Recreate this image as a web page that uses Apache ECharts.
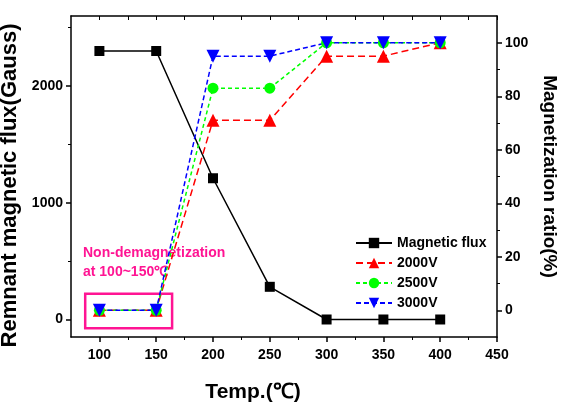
<!DOCTYPE html>
<html>
<head>
<meta charset="utf-8">
<script src="https://cdn.jsdelivr.net/npm/echarts@6/dist/echarts.min.js"></script>
<style>
  html, body { margin: 0; padding: 0; background: #fff; }
  #chart { width: 563px; height: 403px; }
</style>
</head>
<body>
<div id="chart"></div>
<script>
// values
const temps = [100, 150, 200, 250, 300, 350, 400];
const fluxGauss = [2300, 2300, 1210, 280, 0, 0, 0];
const ratio2000 = [0, 0, 71, 71, 95, 95, 100];
const ratio2500 = [0, 0, 83, 83, 100, 100, 100];
const ratio3000 = [0, 0, 95, 95, 100, 100, 100];

const xTicks = [100, 150, 200, 250, 300, 350, 400, 450];
const xMinor = [125, 175, 225, 275, 325, 375, 425];
const leftTicks = [0, 1000, 2000];
const leftMinor = [500, 1500, 2500];
const rightTicks = [0, 20, 40, 60, 80, 100];
const rightMinor = [10, 30, 50, 70, 90];

const FONT = 'Liberation Sans, Arial, sans-serif';
const PINK = '#FF1493';

const pair = (xs, ys) => xs.map((x, i) => [x, ys[i]]);
const plain = v => String(v);

const chart = echarts.init(document.getElementById('chart'));

const labelStyle = { fontFamily: FONT, fontWeight: 'bold', fontSize: 14, color: '#000' };
const nameStyle = { fontFamily: FONT, fontWeight: 'bold', fontSize: 18, color: '#000' };
const blackLine = { color: '#000', width: 1.5 };

const X_MIN = 75, X_MAX = 450;
const L_MIN = -150, L_MAX = 2600;
const R_MIN = -10, R_MAX = 110;

const option = {
  animation: false,
  grid: { left: 71, right: 66, top: 16, bottom: 66, outerBoundsMode: 'none' },
  legend: {
    left: 350, top: 231, orient: 'vertical',
    itemWidth: 36, itemHeight: 13, itemGap: 6,
    textStyle: labelStyle,
    data: ['Magnetic flux', '2000V', '2500V', '3000V']
  },
  xAxis: [
    {
      type: 'value', position: 'bottom', min: X_MIN, max: X_MAX,
      name: 'Temp.(℃)', nameLocation: 'middle', nameGap: 45,
      nameTextStyle: Object.assign({}, nameStyle, { fontSize: 21, padding: [0, 62, 0, 0] }),
      axisLine: { onZero: false, lineStyle: blackLine },
      axisTick: { customValues: xTicks, length: 5, lineStyle: blackLine },
      axisLabel: Object.assign({ customValues: xTicks, margin: 11, formatter: plain }, labelStyle),
      splitLine: { show: false }
    },
    {
      type: 'value', position: 'top', min: X_MIN, max: X_MAX,
      axisLine: { onZero: false, lineStyle: blackLine },
      axisTick: { customValues: xTicks.concat(xMinor), inside: true, length: 4, lineStyle: { color: '#000' } },
      axisLabel: { show: false },
      splitLine: { show: false }
    },
    {
      type: 'value', position: 'bottom', min: X_MIN, max: X_MAX,
      axisLine: { show: false, onZero: false },
      axisTick: { customValues: xMinor, length: 3, lineStyle: { color: '#000' } },
      axisLabel: { show: false },
      splitLine: { show: false }
    }
  ],
  yAxis: [
    {
      type: 'value', position: 'left', min: L_MIN, max: L_MAX,
      name: 'Remnant magnetic flux(Gauss)', nameLocation: 'middle', nameGap: 39,
      nameTextStyle: Object.assign({}, nameStyle, { fontSize: 22, padding: [0, 18, 0, 0] }),
      axisLine: { show: true, onZero: false, lineStyle: blackLine },
      axisTick: { show: true, customValues: leftTicks, length: 5, lineStyle: blackLine },
      axisLabel: Object.assign({ customValues: leftTicks, margin: 8, formatter: plain }, labelStyle),
      splitLine: { show: false }
    },
    {
      type: 'value', position: 'right', min: R_MIN, max: R_MAX,
      name: 'Magnetization ratio(%)', nameLocation: 'middle', nameGap: 42, nameRotate: -90,
      nameTextStyle: Object.assign({}, nameStyle, { fontSize: 19 }),
      axisLine: { show: true, onZero: false, lineStyle: blackLine },
      axisTick: { show: true, customValues: rightTicks, length: 5, lineStyle: blackLine },
      axisLabel: Object.assign({ customValues: rightTicks, margin: 8, formatter: plain }, labelStyle),
      splitLine: { show: false }
    },
    {
      type: 'value', position: 'left', min: L_MIN, max: L_MAX,
      axisLine: { show: false, onZero: false },
      axisTick: { show: true, customValues: leftMinor, length: 3, lineStyle: { color: '#000' } },
      axisLabel: { show: false },
      splitLine: { show: false }
    },
    {
      type: 'value', position: 'right', min: R_MIN, max: R_MAX,
      axisLine: { show: false, onZero: false },
      axisTick: { show: true, customValues: rightMinor, length: 3, lineStyle: { color: '#000' } },
      axisLabel: { show: false },
      splitLine: { show: false }
    }
  ],
  series: [
    {
      name: 'Magnetic flux', type: 'line', xAxisIndex: 0, yAxisIndex: 0,
      data: pair(temps, fluxGauss),
      symbol: 'rect', symbolSize: 10,
      itemStyle: { color: '#000' },
      lineStyle: { color: '#000', width: 1.5 },
      markArea: {
        silent: true,
        itemStyle: { color: 'rgba(0,0,0,0)', borderColor: PINK, borderWidth: 2.5 },
        data: [[{ coord: [87.5, 220] }, { coord: [164, -75] }]]
      }
    },
    {
      name: '2000V', type: 'line', xAxisIndex: 0, yAxisIndex: 1,
      data: pair(temps, ratio2000),
      symbol: 'triangle', symbolSize: 13,
      itemStyle: { color: '#FF0000' },
      lineStyle: { color: '#FF0000', width: 1.5, type: [7, 4] }
    },
    {
      name: '2500V', type: 'line', xAxisIndex: 0, yAxisIndex: 1,
      data: pair(temps, ratio2500),
      symbol: 'circle', symbolSize: 11,
      itemStyle: { color: '#00FF00' },
      lineStyle: { color: '#00FF00', width: 1.5, type: [4, 3] }
    },
    {
      name: '3000V', type: 'line', xAxisIndex: 0, yAxisIndex: 1,
      data: pair(temps, ratio3000),
      symbol: 'triangle', symbolRotate: 180, symbolSize: 13,
      itemStyle: { color: '#0000FF' },
      lineStyle: { color: '#0000FF', width: 1.5, type: [5, 3] }
    }
  ],
  graphic: [
    {
      type: 'text', left: 83, top: 244,
      style: {
        text: 'Non-demagnetization\nat 100~150℃',
        fill: PINK, font: 'bold 14px ' + FONT, lineHeight: 19
      }
    }
  ]
};

chart.setOption(option);
</script>
</body>
</html>
